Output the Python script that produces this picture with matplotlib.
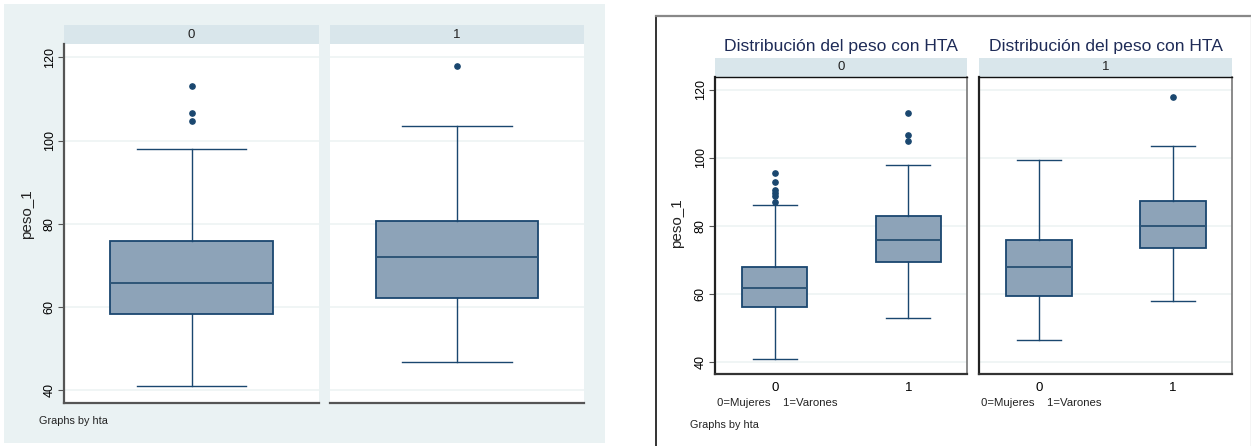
"""Box plots of peso_1 by hta, overall and split by sex (Stata-like styling)."""

import matplotlib
matplotlib.use("Agg")
import matplotlib.pyplot as plt
from matplotlib.lines import Line2D
from matplotlib.patches import Rectangle

plt.rcParams["font.family"] = ["Liberation Sans", "DejaVu Sans"]

W, H = 1251, 446

# peso_1 by hta (left figure)
left_panels = ["0", "1"]
left_whislo = [41.0, 46.7]
left_q1 = [58.2, 62.1]
left_med = [65.7, 72.1]
left_q3 = [75.9, 80.6]
left_whishi = [97.9, 103.5]
left_fliers = [[104.8, 106.5, 113.0], [117.9]]

# peso_1 by sexo within each hta panel (right figure)
right_panels = ["0", "1"]
sex_ticks = ["0", "1"]
right_whislo = [[41.0, 53.0], [46.6, 57.8]]
right_q1 = [[56.2, 69.3], [59.3, 73.4]]
right_med = [[61.8, 75.7], [67.8, 80.1]]
right_q3 = [[67.8, 82.8], [75.9, 87.2]]
right_whishi = [[86.1, 98.0], [99.4, 103.5]]
right_fliers = [
    [[86.9, 88.8, 89.6, 90.6, 93.0, 95.5], [104.8, 106.7, 113.0]],
    [[], [117.9]],
]

y_ticks = [40, 60, 80, 100, 120]
title_text = "Distribución del peso con HTA"
sex_note = "0=Mujeres    1=Varones"

NAVY = "#1A476F"
BOX_FILL = "#8DA3B8"
BG = "#EAF2F3"
STRIP = "#D9E6EB"
GRID = "#EDF3F4"
AXIS = "#555555"


def _rect(x0, y0, x1, y1):
    return [x0 / W, 1 - y1 / H, (x1 - x0) / W, (y1 - y0) / H]


def _stats(lo, q1, med, q3, hi, fliers):
    return dict(whislo=lo, q1=q1, med=med, q3=q3, whishi=hi, fliers=fliers)


def _strip(fig, x0, x1, y0, y1, label):
    sax = fig.add_axes(_rect(x0, y0, x1, y1))
    sax.set_facecolor(STRIP)
    sax.set_xticks([])
    sax.set_yticks([])
    for sp in sax.spines.values():
        sp.set_visible(False)
    sax.text(0.5, 0.5, label, ha="center", va="center", fontsize=9.5, color="#222222")


def _draw_boxes(ax, stats, positions, width, capwidth):
    ax.bxp(
        stats,
        positions=positions,
        widths=width,
        capwidths=capwidth,
        patch_artist=True,
        boxprops=dict(facecolor=BOX_FILL, edgecolor=NAVY, linewidth=1.3),
        medianprops=dict(color="#2E5577", linewidth=1.4),
        whiskerprops=dict(color=NAVY, linewidth=1.0),
        capprops=dict(color=NAVY, linewidth=1.0),
        flierprops=dict(marker="o", markersize=3.8, markerfacecolor=NAVY,
                        markeredgecolor=NAVY, linestyle="none"),
        zorder=3,
    )


def _style_axis(ax, ylim, show_yticks, spines):
    ax.set_ylim(*ylim)
    ax.set_yticks(y_ticks)
    ax.yaxis.grid(True, color=GRID, linewidth=1.2, zorder=0)
    ax.set_axisbelow(True)
    ax.tick_params(axis="y", length=4, width=0.8, color=AXIS, labelsize=9,
                   labelrotation=90, pad=2)
    if show_yticks:
        for lbl in ax.get_yticklabels():
            lbl.set_va("center")
    else:
        ax.tick_params(axis="y", left=False, labelleft=False)
    for name, sp in ax.spines.items():
        if name in spines:
            sp.set_color(spines[name][0])
            sp.set_linewidth(spines[name][1])
        else:
            sp.set_visible(False)


def main():
    fig = plt.figure(figsize=(W / 100, H / 100), dpi=100)

    # left figure: light background region
    fig.add_artist(Rectangle((4 / W, 1 - 443 / H), 601 / W, 439 / H,
                             transform=fig.transFigure, facecolor=BG,
                             edgecolor="none", zorder=0))

    left_x = [(64, 319), (330, 584)]
    for i, name in enumerate(left_panels):
        x0, x1 = left_x[i]
        _strip(fig, x0, x1, 25, 44, name)
        ax = fig.add_axes(_rect(x0, 44, x1, 403))
        ax.set_facecolor("white")
        stats = [_stats(left_whislo[i], left_q1[i], left_med[i], left_q3[i],
                        left_whishi[i], left_fliers[i])]
        _draw_boxes(ax, stats, [0], 0.638, 0.43)
        ax.set_xlim(-0.5, 0.5)
        ax.set_xticks([])
        spines = {"bottom": (AXIS, 1.6)}
        if i == 0:
            spines["left"] = (AXIS, 1.6)
        _style_axis(ax, (36.9, 123.2), i == 0, spines)

    fig.text(27 / W, 1 - 214 / H, "peso_1", rotation=90, ha="center",
             va="center", fontsize=11, color="#222222")
    fig.text(39 / W, 1 - 421 / H, "Graphs by hta", ha="left", va="center",
             fontsize=7.8, color="#222222")

    # right figure: outer frame
    fig.add_artist(Line2D([656 / W, 656 / W], [0, 1 - 15.5 / H],
                          transform=fig.transFigure, color="#111111", linewidth=1.2))
    fig.add_artist(Line2D([656 / W, 1250.5 / W], [1 - 15.5 / H, 1 - 15.5 / H],
                          transform=fig.transFigure, color="#888888", linewidth=1.6))
    fig.add_artist(Line2D([1250.5 / W, 1250.5 / W], [0, 1 - 15.5 / H],
                          transform=fig.transFigure, color="#CCCCCC", linewidth=1.0))

    right_x = [(715, 967), (979, 1232)]
    for i, name in enumerate(right_panels):
        x0, x1 = right_x[i]
        fig.text((x0 + x1) / 2 / W, 1 - 46.5 / H, title_text, ha="center",
                 va="center", fontsize=12.6, color="#1E2B57")
        _strip(fig, x0, x1, 58, 77, name)
        ax = fig.add_axes(_rect(x0, 77, x1, 374))
        ax.set_facecolor("white")
        stats = [
            _stats(right_whislo[i][j], right_q1[i][j], right_med[i][j],
                   right_q3[i][j], right_whishi[i][j], right_fliers[i][j])
            for j in range(len(sex_ticks))
        ]
        _draw_boxes(ax, stats, [0, 1], 0.49, 0.33)
        ax.set_xlim(-0.447, 1.44)
        ax.set_xticks([0, 1])
        ax.set_xticklabels(sex_ticks)
        ax.tick_params(axis="x", length=0, labelsize=9.5, pad=6)
        spines = {"left": ("#222222", 1.6), "bottom": ("#333333", 1.6),
                  "top": ("#111111", 1.0), "right": ("#777777", 1.2)}
        _style_axis(ax, (36.5, 123.7), i == 0, spines)
        fig.text((x0 + 2) / W, 1 - 403.5 / H, sex_note, ha="left", va="center",
                 fontsize=8.2, color="#222222")

    fig.text(677 / W, 1 - 223 / H, "peso_1", rotation=90, ha="center",
             va="center", fontsize=11, color="#222222")
    fig.text(690 / W, 1 - 425.5 / H, "Graphs by hta", ha="left", va="center",
             fontsize=7.8, color="#222222")

    fig.savefig("out.png", dpi=100)
    plt.close(fig)


if __name__ == "__main__":
    main()
